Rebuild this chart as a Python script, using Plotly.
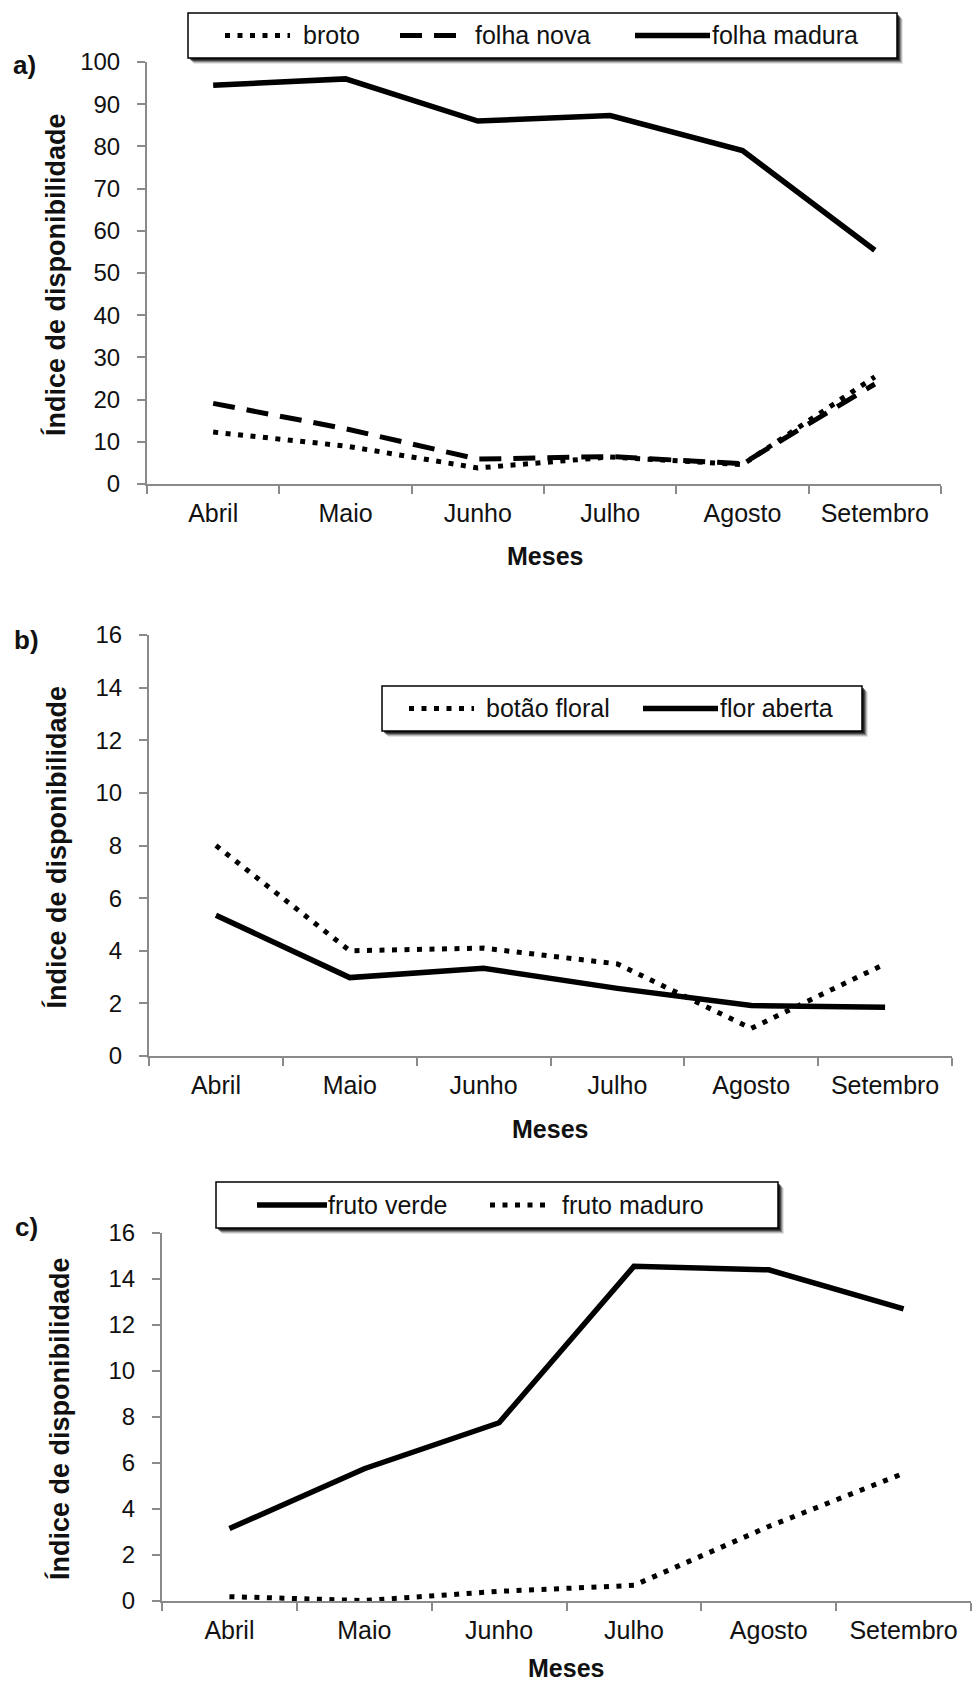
import plotly.graph_objects as go

# ---- data -------------------------------------------------------------
meses = ["Abril", "Maio", "Junho", "Julho", "Agosto", "Setembro"]

broto = [12.3, 9.0, 3.8, 6.4, 4.6, 25.4]
folha_nova = [19.1, 13.1, 5.9, 6.5, 4.8, 23.7]
folha_madura = [94.5, 96.0, 86.0, 87.3, 79.0, 55.4]

botao_floral = [8.0, 4.0, 4.1, 3.5, 1.05, 3.5]
flor_aberta = [5.35, 2.98, 3.33, 2.57, 1.92, 1.85]

fruto_verde = [3.15, 5.75, 7.75, 14.55, 14.4, 12.7]
fruto_maduro = [0.19, 0.02, 0.42, 0.68, 3.24, 5.55]

y_ticks_a = list(range(0, 101, 10))
y_ticks_bc = list(range(0, 17, 2))

# ---- page geometry (pixels) ---------------------------------------------
W, H = 973, 1686
FONT = "Liberation Sans, Arial, sans-serif"
TXT = "#111111"
AXIS = "#8a8a8a"


def px(x):
    return x / W


def py(y):
    return 1 - y / H


# plot areas: (left, right, top, bottom) in pixels
panels = {
    "a": (147, 941, 62, 484),
    "b": (149, 952, 635, 1056),
    "c": (162, 971, 1233, 1601),
}

SOLID = dict(color="black", width=5.5)
DOT = dict(color="black", width=5, dash="5px,7.5px")
DASH = dict(color="black", width=5, dash="22px,12px")

fig = go.Figure()

# panel a
fig.add_trace(go.Scatter(x=meses, y=folha_madura, mode="lines", line=SOLID,
                         xaxis="x", yaxis="y", name="folha madura"))
fig.add_trace(go.Scatter(x=meses, y=folha_nova, mode="lines", line=DASH,
                         xaxis="x", yaxis="y", name="folha nova"))
fig.add_trace(go.Scatter(x=meses, y=broto, mode="lines", line=DOT,
                         xaxis="x", yaxis="y", name="broto"))
# panel b
fig.add_trace(go.Scatter(x=meses, y=botao_floral, mode="lines", line=DOT,
                         xaxis="x2", yaxis="y2", name="botão floral"))
fig.add_trace(go.Scatter(x=meses, y=flor_aberta, mode="lines", line=SOLID,
                         xaxis="x2", yaxis="y2", name="flor aberta"))
# panel c
fig.add_trace(go.Scatter(x=meses, y=fruto_verde, mode="lines", line=SOLID,
                         xaxis="x3", yaxis="y3", name="fruto verde"))
fig.add_trace(go.Scatter(x=meses, y=fruto_maduro, mode="lines", line=DOT,
                         xaxis="x3", yaxis="y3", name="fruto maduro"))


def xaxis_cfg(key, anchor):
    l, r, t, b = panels[key]
    return dict(
        domain=[px(l), px(r)], anchor=anchor, type="category",
        categoryorder="array", categoryarray=meses, range=[-0.5, 5.5],
        showline=True, linecolor=AXIS, linewidth=2,
        ticks="outside", tickson="boundaries", ticklen=8, tickwidth=2,
        tickcolor=AXIS, showgrid=False, zeroline=False, automargin=False,
        tickfont=dict(family=FONT, size=25, color=TXT),
        ticklabelstandoff=6, fixedrange=True,
    )


def yaxis_cfg(key, anchor, rng, vals):
    l, r, t, b = panels[key]
    return dict(
        domain=[py(b), py(t)], anchor=anchor, range=rng,
        tickmode="array", tickvals=vals,
        showline=True, linecolor=AXIS, linewidth=2,
        ticks="outside", ticklen=8, tickwidth=2, tickcolor=AXIS,
        showgrid=False, zeroline=False, automargin=False,
        tickfont=dict(family=FONT, size=24, color=TXT),
        ticklabelstandoff=12, fixedrange=True,
    )


layout = dict(
    width=W, height=H,
    margin=dict(l=0, r=0, t=0, b=0, pad=0, autoexpand=False),
    paper_bgcolor="white", plot_bgcolor="white", showlegend=False,
    xaxis=xaxis_cfg("a", "y"), yaxis=yaxis_cfg("a", "x", [0, 100], y_ticks_a),
    xaxis2=xaxis_cfg("b", "y2"), yaxis2=yaxis_cfg("b", "x2", [0, 16], y_ticks_bc),
    xaxis3=xaxis_cfg("c", "y3"), yaxis3=yaxis_cfg("c", "x3", [0, 16], y_ticks_bc),
)
fig.update_layout(**layout)

annotations = []
shapes = []


def text(x, y, s, size=25, bold=False, xanchor="center", angle=0):
    annotations.append(dict(
        xref="paper", yref="paper", x=px(x), y=py(y), text=s,
        showarrow=False, xanchor=xanchor, yanchor="middle", textangle=angle,
        font=dict(family=FONT, size=size, color=TXT,
                  weight="bold" if bold else "normal"),
    ))


# panel letters, axis titles
for key, (lx, ly) in {"a": (24, 65), "b": (26, 640), "c": (26, 1227)}.items():
    text(lx, ly, key + ")", size=26, bold=True)

for key, mx, my in (("a", 545, 556), ("b", 550, 1129), ("c", 566, 1668)):
    text(mx, my, "Meses", size=25, bold=True)

for key, tx in (("a", 56), ("b", 56), ("c", 59)):
    l, r, t, b = panels[key]
    text(tx, (t + b) / 2 + 2, "Índice de disponibilidade", size=27,
         bold=True, angle=-90)


def legend_box(x0, y0, x1, y1, items):
    # soft drop shadow
    for d, op in ((6, 0.10), (5, 0.18), (4, 0.30), (3, 0.45), (2, 0.55)):
        shapes.append(dict(type="rect", xref="paper", yref="paper",
                           x0=px(x0 + d), x1=px(x1 + d), y0=py(y0 + d), y1=py(y1 + d),
                           line=dict(width=0), fillcolor=f"rgba(0,0,0,{op})"))
    shapes.append(dict(type="rect", xref="paper", yref="paper",
                       x0=px(x0), x1=px(x1), y0=py(y0), y1=py(y1),
                       line=dict(color="black", width=1.5), fillcolor="white"))
    yc = (y0 + y1) / 2
    for (sx0, sx1, style, label, tx) in items:
        shapes.append(dict(type="line", xref="paper", yref="paper",
                           x0=px(sx0), x1=px(sx1), y0=py(yc), y1=py(yc),
                           line=style))
        text(tx, yc, label, size=25, xanchor="left")


legend_box(188, 13, 897, 58, [
    (225, 290, DOT, "broto", 301),
    (400, 463, DASH, "folha nova", 473),
    (635, 710, SOLID, "folha madura", 710),
])
legend_box(382, 686, 862, 731, [
    (409, 474, DOT, "botão floral", 484),
    (643, 718, SOLID, "flor aberta", 718),
])
legend_box(216, 1182, 778, 1228, [
    (257, 327, SOLID, "fruto verde", 326),
    (490, 552, DOT, "fruto maduro", 560),
])

fig.update_layout(annotations=annotations, shapes=shapes)
fig.write_html("out.html")
